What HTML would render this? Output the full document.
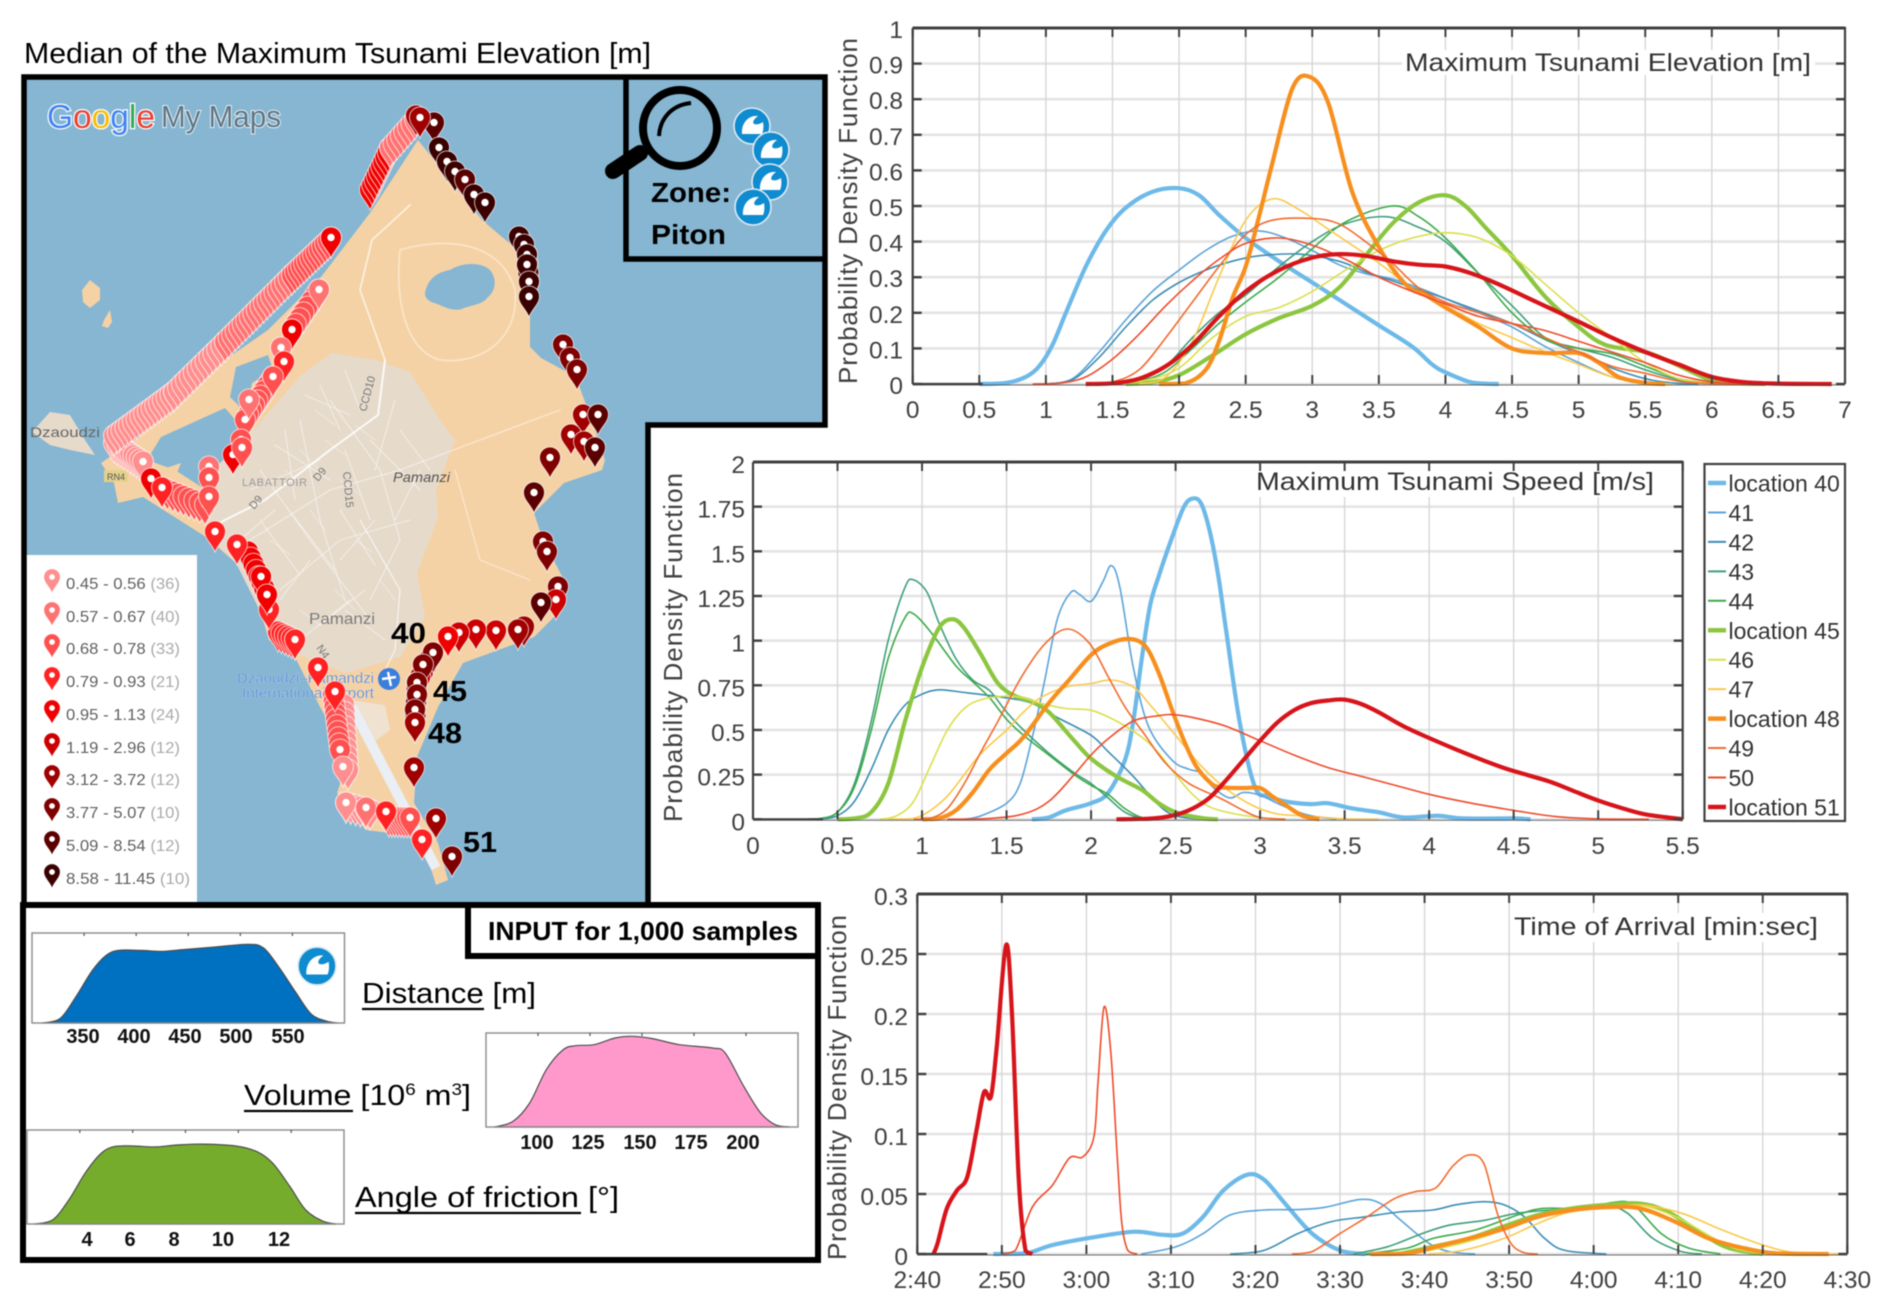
<!DOCTYPE html>
<html lang="en">
<head>
<meta charset="utf-8">
<title>Tsunami probability density figure</title>
<style>
html,body{margin:0;padding:0;background:#fff;}
#figure{display:block;width:1892px;height:1309px;filter:blur(0.55px);font-family:"Liberation Sans",sans-serif;}
text{font-family:"Liberation Sans",sans-serif;}
</style>
</head>
<body>
<svg id="figure" xmlns="http://www.w3.org/2000/svg" width="1892" height="1309" viewBox="0 0 1892 1309">
<defs>
<clipPath id="mapClip"><polygon points="24,77 825,77 825,425 648,425 648,905 24,905"/></clipPath>
</defs>
<rect width="1892" height="1309" fill="#fff"/>

<text x="24" y="63" font-size="29" textLength="627" lengthAdjust="spacingAndGlyphs" fill="#000">Median of the Maximum Tsunami Elevation [m]</text>

<g clip-path="url(#mapClip)">
<rect x="24" y="77" width="801" height="828" fill="#86B6D1"/>
<polygon fill="#E6DACB" points="32,432 50,412 70,415 85,440 95,455 70,450 50,445"/>
<polygon fill="#F5D2A6" points="418,140 482,220 514,247 530,300 530,347 541,358 576,377 589,413 605,460 602,470 564,483 534,513 543,540 564,580 564,607 534,637 463,663 438,707 417,757 414,803 438,843 448,880 436,885 421,837 366,830 337,793 349,757 320,707 295,657 269,640 257,600 236,563 206,537 143,497 118,503 114,483 101,463 139,437 177,400 225,360 268,330 321,277 370,213"/>
<polygon fill="#86B6D1" points="236,367 268,355 273,370 252,383 246,413 230,397"/>
<polygon fill="#86B6D1" points="161,437 225,408 238,423 252,460 206,490 175,470 147,460"/>
<polygon fill="#F5D2A6" points="160,470 181,463 175,478 168,482"/>
<polygon fill="#F5D2A6" points="82,290 90,280 100,288 100,300 90,308 83,302"/>
<polygon fill="#F5D2A6" points="104,320 110,310 112,322 108,328 102,326"/>
<polygon fill="#E6DACB" points="258,425 300,376 332,353 375,360 410,372 440,420 455,440 436,490 438,517 417,573 425,617 400,657 345,673 295,653 261,613 236,563 206,533 210,473"/>
<path fill="#86B6D1" d="M425,293 C428,278 438,272 450,270 C462,262 482,262 490,270 C498,280 495,292 487,298 C482,305 470,305 462,309 C450,312 442,305 434,303 C428,301 425,298 425,293 Z"/>
<g fill="none" stroke="#fff" stroke-linecap="round">
<path stroke="#FBE6CC" stroke-width="1.6" d="M400,250 C440,238 500,238 515,290 C520,340 480,365 440,360 C405,350 395,300 400,250"/>
<path stroke-opacity=".85" stroke-width="2" d="M385,360 L378,415 L330,450 L265,500 L215,525"/>
<path stroke-opacity=".7" stroke-width="1.6" d="M410,205 L372,240 L360,290 L385,360"/>
<path stroke-opacity=".7" stroke-width="1.2" d="M360,520 L400,590 L395,650 L380,680"/>
<path stroke-opacity=".55" stroke-width="1.1" d="M250,540 L330,490 L400,470 L480,440 L560,410"/>
<path stroke-opacity=".6" stroke-width=".9" d="M300,420 L320,520 L345,600 M260,470 L310,540 L370,620 M280,590 L340,540 L410,520 M330,400 L380,470 L400,540 M455,470 L480,560 L530,580 M300,640 L350,600 M320,460 L250,490 M305,395 L350,415 M320,385 L340,430 M345,370 L360,410 M275,445 L330,480 M285,430 L295,500 M345,450 L370,520 M370,440 L420,490 M395,400 L375,470 M260,520 L300,575 M285,505 L335,570 M310,560 L280,600 M340,510 L375,565 M375,520 L340,560 M400,540 L370,600 M345,610 L385,640 M320,625 L365,590 M240,540 L275,510 M400,430 L430,470 M420,470 L395,520"/>
<path stroke-opacity=".45" stroke-width=".8" d="M315,410 L335,425 M300,450 L320,470 M340,480 L360,495 M270,540 L290,555 M310,510 L325,530 M355,540 L372,552 M335,590 L355,610 M300,610 L320,625 M380,580 L395,600 M355,425 L375,440 M285,470 L305,485 M325,440 L345,455"/>
</g>
<line x1="352" y1="707" x2="436" y2="868" stroke="#E9EFF4" stroke-width="10"/>
<polygon fill="#E9EFF4" points="350,700 385,705 390,730 370,745" opacity=".55"/>
<text x="30" y="437" font-size="14" textLength="70" lengthAdjust="spacingAndGlyphs" fill="#666">Dzaoudzi</text>
<text x="309" y="624" font-size="16" textLength="66" lengthAdjust="spacingAndGlyphs" fill="#7b7b7b">Pamanzi</text>
<text x="393" y="482" font-size="14" font-style="italic" textLength="57" lengthAdjust="spacingAndGlyphs" fill="#555">Pamanzi</text>
<text x="242" y="486" font-size="11" textLength="65" fill="#999">LABATTOIR</text>
<text font-size="11" fill="#777" transform="translate(254,510) rotate(-50)">D9</text>
<text font-size="11" fill="#777" transform="translate(318,482) rotate(-50)">D9</text>
<text font-size="11" fill="#777" transform="translate(343,472) rotate(85)">CCD15</text>
<text font-size="11" fill="#777" transform="translate(366,412) rotate(-75)">CCD10</text>
<text font-size="11" fill="#777" transform="translate(316,648) rotate(55)">N4</text>
<rect x="104" y="470" width="24" height="12" fill="#E4D28A"/>
<text x="107" y="480" font-size="9" fill="#555">RN4</text>
<text x="237" y="683" font-size="15" textLength="137" lengthAdjust="spacingAndGlyphs" fill="#4A80D6" stroke="#fff" stroke-opacity=".4" stroke-width=".6">Dzaoudzi–Pamandzi</text>
<text x="242" y="698" font-size="15" textLength="132" lengthAdjust="spacingAndGlyphs" fill="#4A80D6" stroke="#fff" stroke-opacity=".4" stroke-width=".6">International Airport</text>
<circle cx="389" cy="679" r="11" fill="#3B7FDC"/>
<path d="M382,679 L396,677 M388,672 L391,686" stroke="#fff" stroke-width="2.4"/>
<g id="mapPins"></g>
<text x="47" y="128" font-size="33" textLength="108" lengthAdjust="spacingAndGlyphs" stroke="#fff" stroke-width="2.4" paint-order="stroke"><tspan fill="#4285F4">G</tspan><tspan fill="#EA4335">o</tspan><tspan fill="#FBBC05">o</tspan><tspan fill="#4285F4">g</tspan><tspan fill="#34A853">l</tspan><tspan fill="#EA4335">e</tspan></text>
<text x="161" y="127" font-size="31" textLength="120" lengthAdjust="spacingAndGlyphs" fill="#5d7686" stroke="#e6edf2" stroke-width="2" paint-order="stroke">My Maps</text>
</g>

<g>
<rect x="26" y="555" width="171" height="348" fill="#fff"/>
<g id="mapLegendPins"></g>
<g font-size="15.5" fill="#5f5f5f">
<text x="66" y="589" textLength="114" lengthAdjust="spacingAndGlyphs">0.45 - 0.56 <tspan fill="#aaa">(36)</tspan></text>
<text x="66" y="622" textLength="114" lengthAdjust="spacingAndGlyphs">0.57 - 0.67 <tspan fill="#aaa">(40)</tspan></text>
<text x="66" y="654" textLength="114" lengthAdjust="spacingAndGlyphs">0.68 - 0.78 <tspan fill="#aaa">(33)</tspan></text>
<text x="66" y="687" textLength="114" lengthAdjust="spacingAndGlyphs">0.79 - 0.93 <tspan fill="#aaa">(21)</tspan></text>
<text x="66" y="720" textLength="114" lengthAdjust="spacingAndGlyphs">0.95 - 1.13 <tspan fill="#aaa">(24)</tspan></text>
<text x="66" y="753" textLength="114" lengthAdjust="spacingAndGlyphs">1.19 - 2.96 <tspan fill="#aaa">(12)</tspan></text>
<text x="66" y="785" textLength="114" lengthAdjust="spacingAndGlyphs">3.12 - 3.72 <tspan fill="#aaa">(12)</tspan></text>
<text x="66" y="818" textLength="114" lengthAdjust="spacingAndGlyphs">3.77 - 5.07 <tspan fill="#aaa">(10)</tspan></text>
<text x="66" y="851" textLength="114" lengthAdjust="spacingAndGlyphs">5.09 - 8.54 <tspan fill="#aaa">(12)</tspan></text>
<text x="66" y="884" textLength="124" lengthAdjust="spacingAndGlyphs">8.58 - 11.45 <tspan fill="#aaa">(10)</tspan></text>
</g>
</g>

<g font-size="29" font-weight="bold" fill="#000">
<text x="391" y="643" textLength="35" lengthAdjust="spacingAndGlyphs">40</text>
<text x="433" y="701" textLength="34" lengthAdjust="spacingAndGlyphs">45</text>
<text x="428" y="743" textLength="34" lengthAdjust="spacingAndGlyphs">48</text>
<text x="463" y="852" textLength="34" lengthAdjust="spacingAndGlyphs">51</text>
</g>

<path d="M24,77 H825 V425 H648 V905 H24 Z" fill="none" stroke="#000" stroke-width="5.5"/>
<path d="M626,77 V259 H825" fill="none" stroke="#000" stroke-width="5.5"/>

<g>
<ellipse cx="680" cy="128" rx="37" ry="38" fill="none" stroke="#000" stroke-width="8"/>
<path d="M659,136 C660,118 672,105 691,103" fill="none" stroke="#000" stroke-width="4"/>
<line x1="640" y1="153" x2="613" y2="171" stroke="#000" stroke-width="16" stroke-linecap="round"/>
</g>
<g id="zoneWaves"></g>
<text x="651" y="202" font-size="28" font-weight="bold" textLength="80" lengthAdjust="spacingAndGlyphs">Zone:</text>
<text x="651" y="244" font-size="28" font-weight="bold" textLength="75" lengthAdjust="spacingAndGlyphs">Piton</text>

<g>
<rect x="23" y="905" width="795" height="355" fill="#fff" stroke="#000" stroke-width="6"/>
<path d="M468,905 V956 H818" fill="none" stroke="#000" stroke-width="6"/>
<text x="488" y="940" font-size="26" font-weight="bold" textLength="310" lengthAdjust="spacingAndGlyphs">INPUT for 1,000 samples</text>
<g id="distancePlot"></g>
<g id="volumePlot"></g>
<g id="frictionPlot"></g>
<g font-size="20" font-weight="bold" text-anchor="middle" fill="#111">
<text x="83" y="1043">350</text>
<text x="134" y="1043">400</text>
<text x="185" y="1043">450</text>
<text x="236" y="1043">500</text>
<text x="288" y="1043">550</text>
<text x="537" y="1149">100</text>
<text x="588" y="1149">125</text>
<text x="640" y="1149">150</text>
<text x="691" y="1149">175</text>
<text x="743" y="1149">200</text>
<text x="87" y="1246">4</text>
<text x="130" y="1246">6</text>
<text x="174" y="1246">8</text>
<text x="223" y="1246">10</text>
<text x="279" y="1246">12</text>
</g>
<text x="362" y="1003" font-size="29" textLength="174" lengthAdjust="spacingAndGlyphs">Distance [m]</text>
<line x1="362" y1="1009" x2="484" y2="1009" stroke="#000" stroke-width="2.2"/>
<text x="244" y="1105" font-size="29" textLength="227" lengthAdjust="spacingAndGlyphs">Volume [10<tspan font-size="17" dy="-10">6</tspan><tspan dy="10"> m</tspan><tspan font-size="17" dy="-10">3</tspan><tspan dy="10">]</tspan></text>
<line x1="244" y1="1111" x2="353" y2="1111" stroke="#000" stroke-width="2.2"/>
<text x="355" y="1207" font-size="29" textLength="264" lengthAdjust="spacingAndGlyphs">Angle of friction [°]</text>
<line x1="355" y1="1213" x2="581" y2="1213" stroke="#000" stroke-width="2.2"/>
</g>

<g id="elevationChart"></g>
<g id="speedChart"></g>
<g id="arrivalChart"></g>
<g id="seriesLegend"></g>
</svg>

<script>
// ---------- Elevation chart data: [value (m), density] ----------
const elevXTicks = [0,0.5,1,1.5,2,2.5,3,3.5,4,4.5,5,5.5,6,6.5,7];
const elevYTicks = [0,0.1,0.2,0.3,0.4,0.5,0.6,0.7,0.8,0.9,1];
const elev40 = [[0.5,0],[0.7,0.003],[0.85,0.02],[0.95,0.05],[1.05,0.11],[1.15,0.2],[1.3,0.33],[1.45,0.43],[1.6,0.495],[1.8,0.54],[2,0.55],[2.15,0.53],[2.3,0.475],[2.5,0.41],[2.75,0.345],[3,0.285],[3.25,0.225],[3.5,0.165],[3.75,0.105],[3.9,0.055],[4,0.033],[4.2,0.004],[4.4,0]];
const elev41 = [[1,0],[1.2,0.015],[1.4,0.09],[1.6,0.18],[1.8,0.26],[2,0.32],[2.2,0.375],[2.4,0.415],[2.6,0.43],[2.8,0.41],[3,0.375],[3.2,0.335],[3.4,0.31],[3.6,0.295],[3.8,0.27],[4,0.24],[4.25,0.2],[4.5,0.16],[4.75,0.105],[5,0.06],[5.25,0.02],[5.5,0.002],[5.7,0]];
const elev42 = [[1,0],[1.2,0.012],[1.4,0.075],[1.6,0.16],[1.8,0.235],[2,0.285],[2.2,0.32],[2.4,0.345],[2.6,0.36],[2.9,0.365],[3.2,0.345],[3.4,0.315],[3.6,0.29],[3.8,0.265],[4,0.24],[4.25,0.205],[4.5,0.17],[4.75,0.125],[5,0.085],[5.25,0.045],[5.5,0.015],[5.7,0.003],[5.9,0]];
const elev43 = [[1.5,0],[1.7,0.01],[1.9,0.05],[2.1,0.13],[2.3,0.2],[2.5,0.25],[2.75,0.33],[3,0.4],[3.25,0.45],[3.55,0.47],[3.8,0.44],[4,0.4],[4.25,0.31],[4.5,0.22],[4.75,0.13],[5,0.1],[5.25,0.075],[5.5,0.04],[5.75,0.012],[6,0.001]];
const elev44 = [[1.5,0],[1.7,0.008],[1.9,0.035],[2.1,0.1],[2.3,0.17],[2.5,0.23],[2.75,0.3],[3,0.38],[3.25,0.455],[3.6,0.5],[3.8,0.47],[4,0.41],[4.25,0.31],[4.5,0.2],[4.75,0.125],[5,0.1],[5.25,0.085],[5.5,0.05],[5.75,0.015],[6,0.002]];
const elev45 = [[1.6,0],[1.8,0.005],[2,0.025],[2.25,0.08],[2.5,0.14],[2.75,0.185],[3,0.22],[3.2,0.27],[3.4,0.36],[3.6,0.45],[3.8,0.51],[4,0.53],[4.15,0.5],[4.3,0.44],[4.5,0.36],[4.75,0.245],[5,0.16],[5.2,0.11],[5.5,0.09],[5.7,0.06],[6,0.01],[6.2,0.002],[6.4,0]];
const elev46 = [[1.5,0],[1.75,0.01],[2,0.045],[2.25,0.13],[2.5,0.19],[2.75,0.215],[3,0.26],[3.25,0.32],[3.5,0.375],[3.75,0.41],[4,0.425],[4.25,0.41],[4.5,0.36],[4.75,0.28],[5,0.2],[5.25,0.13],[5.5,0.06],[5.75,0.015],[6,0.002]];
const elev47 = [[1.7,0],[1.9,0.02],[2.1,0.12],[2.3,0.3],[2.5,0.46],[2.7,0.52],[2.9,0.49],[3.1,0.44],[3.3,0.39],[3.5,0.34],[3.75,0.27],[4,0.22],[4.25,0.17],[4.5,0.13],[4.75,0.09],[5,0.055],[5.25,0.02],[5.5,0.005],[5.7,0]];
const elev48 = [[1.85,0],[2.05,0.002],[2.2,0.04],[2.3,0.12],[2.4,0.24],[2.5,0.33],[2.6,0.47],[2.7,0.62],[2.85,0.83],[2.98,0.863],[3.12,0.79],[3.3,0.54],[3.5,0.385],[3.7,0.28],[3.85,0.25],[4,0.215],[4.25,0.16],[4.5,0.1],[4.75,0.087],[5,0.087],[5.15,0.06],[5.3,0.02],[5.5,0.003],[5.65,0]];
const elev49 = [[1.3,0],[1.5,0.006],[1.7,0.04],[1.9,0.13],[2.1,0.23],[2.3,0.33],[2.5,0.42],[2.7,0.46],[3,0.465],[3.2,0.45],[3.4,0.4],[3.6,0.34],[3.8,0.27],[4,0.23],[4.25,0.2],[4.5,0.17],[4.75,0.13],[5,0.09],[5.25,0.05],[5.5,0.03],[5.75,0.008],[6,0.001],[6.2,0]];
const elev50 = [[0.9,0],[1.1,0.002],[1.3,0.02],[1.5,0.07],[1.7,0.14],[1.9,0.22],[2.1,0.29],[2.3,0.35],[2.5,0.395],[2.75,0.41],[3,0.39],[3.25,0.35],[3.5,0.3],[3.75,0.26],[4,0.225],[4.25,0.19],[4.5,0.17],[4.75,0.15],[5,0.12],[5.25,0.09],[5.5,0.06],[5.75,0.025],[6,0.006],[6.25,0]];
const elev51 = [[1.3,0],[1.5,0.002],[1.7,0.015],[1.9,0.05],[2.1,0.11],[2.3,0.19],[2.5,0.26],[2.75,0.32],[3,0.355],[3.2,0.365],[3.4,0.36],[3.6,0.345],[3.8,0.335],[4,0.33],[4.2,0.31],[4.4,0.28],[4.6,0.245],[4.8,0.21],[5,0.175],[5.25,0.13],[5.5,0.09],[5.75,0.055],[6,0.02],[6.25,0.005],[6.5,0.001],[6.9,0]];

// ---------- Speed chart data: [value (m/s), density] ----------
const speedXTicks = [0,0.5,1,1.5,2,2.5,3,3.5,4,4.5,5,5.5];
const speedYTicks = [0,0.25,0.5,0.75,1,1.25,1.5,1.75,2];
const speed40 = [[1.65,0],[1.75,0.01],[1.85,0.05],[2,0.09],[2.1,0.147],[2.2,0.33],[2.25,0.55],[2.3,0.9],[2.35,1.2],[2.4,1.36],[2.48,1.58],[2.55,1.75],[2.6,1.795],[2.65,1.77],[2.7,1.62],[2.75,1.38],[2.8,1.05],[2.88,0.54],[2.97,0.18],[3.05,0.13],[3.15,0.1],[3.3,0.085],[3.4,0.09],[3.55,0.06],[3.7,0.04],[3.85,0.01],[4.05,0.02],[4.2,0.005],[4.5,0.005],[4.6,0]];
const speed41 = [[1.25,0],[1.35,0.02],[1.5,0.09],[1.58,0.2],[1.65,0.45],[1.72,0.75],[1.8,1.12],[1.88,1.27],[1.93,1.26],[2,1.22],[2.07,1.33],[2.12,1.42],[2.17,1.3],[2.25,0.85],[2.34,0.52],[2.48,0.33],[2.58,0.28],[2.65,0.26],[2.72,0.18],[2.82,0.12],[2.9,0.15],[3,0.135],[3.1,0.09],[3.2,0.05],[3.3,0.02],[3.45,0]];
const speed42 = [[0.4,0],[0.5,0.02],[0.6,0.1],[0.7,0.28],[0.8,0.5],[0.9,0.64],[1,0.7],[1.1,0.725],[1.25,0.71],[1.5,0.68],[1.65,0.65],[1.8,0.57],[2,0.47],[2.1,0.38],[2.25,0.24],[2.4,0.08],[2.5,0.02],[2.65,0]];
const speed43 = [[0.3,0],[0.4,0.005],[0.5,0.04],[0.6,0.2],[0.7,0.55],[0.8,1],[0.9,1.3],[0.95,1.34],[1.03,1.27],[1.1,1.1],[1.2,0.9],[1.3,0.78],[1.4,0.72],[1.5,0.6],[1.6,0.5],[1.75,0.37],[1.9,0.26],[2,0.2],[2.1,0.12],[2.2,0.04],[2.3,0.005],[2.4,0]];
const speed44 = [[0.3,0],[0.4,0.004],[0.5,0.04],[0.6,0.18],[0.7,0.5],[0.8,0.9],[0.9,1.13],[0.95,1.15],[1.05,1.05],[1.2,0.86],[1.3,0.77],[1.4,0.68],[1.5,0.56],[1.6,0.47],[1.75,0.36],[1.9,0.25],[2,0.19],[2.1,0.14],[2.2,0.06],[2.3,0.01],[2.4,0]];
const speed45 = [[0.5,0],[0.6,0.005],[0.7,0.04],[0.8,0.2],[0.9,0.55],[1,0.85],[1.1,1.07],[1.18,1.12],[1.25,1.07],[1.35,0.92],[1.45,0.76],[1.55,0.69],[1.65,0.66],[1.75,0.6],[1.9,0.44],[2,0.34],[2.15,0.24],[2.3,0.165],[2.4,0.09],[2.5,0.04],[2.65,0.007],[2.75,0]];
const speed46 = [[0.75,0],[0.85,0.02],[0.95,0.1],[1.05,0.3],[1.15,0.5],[1.25,0.62],[1.35,0.67],[1.5,0.69],[1.6,0.68],[1.7,0.65],[1.85,0.62],[2,0.61],[2.15,0.55],[2.3,0.46],[2.4,0.37],[2.5,0.25],[2.6,0.14],[2.7,0.07],[2.85,0.03],[3,0.01],[3.15,0]];
const speed47 = [[0.8,0],[0.95,0.005],[1.05,0.05],[1.15,0.13],[1.25,0.25],[1.35,0.37],[1.5,0.5],[1.6,0.6],[1.7,0.68],[1.85,0.74],[2,0.76],[2.12,0.78],[2.25,0.74],[2.35,0.64],[2.5,0.47],[2.65,0.3],[2.8,0.17],[2.95,0.08],[3.1,0.03],[3.25,0.02],[3.5,0.002],[3.7,0]];
const speed48 = [[1,0],[1.1,0.005],[1.2,0.05],[1.3,0.15],[1.4,0.28],[1.5,0.37],[1.6,0.46],[1.75,0.65],[1.87,0.78],[2,0.92],[2.1,0.98],[2.22,1.01],[2.32,0.97],[2.4,0.82],[2.48,0.61],[2.55,0.44],[2.62,0.3],[2.7,0.21],[2.76,0.18],[2.9,0.175],[3,0.175],[3.07,0.13],[3.15,0.08],[3.25,0.02],[3.35,0]];
const speed49 = [[0.95,0],[1.05,0.005],[1.15,0.06],[1.25,0.2],[1.35,0.38],[1.45,0.55],[1.59,0.8],[1.73,0.985],[1.86,1.065],[1.99,0.985],[2.1,0.8],[2.2,0.63],[2.32,0.47],[2.44,0.315],[2.58,0.2],[2.76,0.12],[2.9,0.05],[3,0.01],[3.15,0]];
const speed50 = [[1.15,0],[1.4,0.005],[1.6,0.03],[1.75,0.1],[1.9,0.25],[2,0.36],[2.1,0.45],[2.25,0.55],[2.4,0.58],[2.5,0.585],[2.65,0.56],[2.8,0.52],[3,0.44],[3.2,0.36],[3.4,0.29],[3.6,0.24],[3.8,0.19],[4,0.14],[4.25,0.09],[4.5,0.05],[4.75,0.015],[5,0.002],[5.3,0]];
const speed51 = [[2.15,0],[2.35,0.004],[2.48,0.02],[2.6,0.06],[2.7,0.12],[2.8,0.22],[2.9,0.33],[3,0.44],[3.1,0.54],[3.2,0.61],[3.3,0.65],[3.4,0.665],[3.5,0.67],[3.6,0.645],[3.7,0.6],[3.85,0.52],[4,0.455],[4.2,0.375],[4.45,0.285],[4.7,0.215],[4.85,0.16],[5,0.105],[5.15,0.06],[5.29,0.026],[5.5,0]];

// ---------- Arrival chart data: [time (seconds), density] ----------
const arrivalXTicks = [160,170,180,190,200,210,220,230,240,250,260,270];
const arrivalXLabels = ["2:40","2:50","3:00","3:10","3:20","3:30","3:40","3:50","4:00","4:10","4:20","4:30"];
const arrivalYTicks = [0,0.05,0.1,0.15,0.2,0.25,0.3];
const arrival40 = [[169,0],[172.8,0.0005],[176,0.0075],[180.9,0.014],[185.7,0.0186],[189,0.016],[191.4,0.017],[193.8,0.031],[196.2,0.053],[199,0.066],[201,0.062],[203.5,0.042],[206.7,0.017],[210,0.003],[213,0]];
const arrival41 = [[186.5,0],[190.6,0.006],[193.8,0.017],[197,0.0325],[201,0.0367],[205,0.037],[208.3,0.039],[212.4,0.0455],[214.8,0.042],[217.2,0.028],[220.5,0.009],[222.9,0.002],[226,0]];
const arrival42 = [[197,0],[201,0.003],[205,0.017],[209,0.027],[213,0.031],[217,0.035],[221,0.0367],[223.7,0.041],[227,0.0436],[229.4,0.041],[231.8,0.031],[234.2,0.013],[236.6,0.003],[241.5,0]];
const arrival43 = [[211.6,0],[215.6,0.006],[219.7,0.017],[222.9,0.024],[227,0.028],[231,0.034],[234.9,0.0367],[239,0.038],[241.5,0.041],[244,0.034],[247,0.013],[250.4,0.002],[252.8,0]];
const arrival44 = [[213,0],[218,0.005],[221,0.013],[226,0.02],[231,0.0325],[234,0.038],[239,0.038],[242.3,0.043],[244.7,0.041],[248,0.017],[251.2,0.005],[255,0]];
const arrival45 = [[217,0],[221,0.006],[225.3,0.013],[229.4,0.023],[233.4,0.0325],[237.4,0.038],[241.5,0.041],[245.5,0.042],[248.8,0.035],[252.8,0.017],[256,0.005],[260,0]];
const arrival46 = [[218,0],[222,0.005],[226,0.012],[230,0.022],[234,0.032],[238,0.038],[242,0.04],[246,0.04],[250,0.03],[254,0.014],[257,0.004],[261,0]];
const arrival47 = [[220.5,0],[224.5,0.003],[229.4,0.013],[232.6,0.023],[236.6,0.034],[240.7,0.038],[245.5,0.041],[250.4,0.034],[255.2,0.02],[260,0.0075],[264,0.001],[269.8,0]];
const arrival48 = [[213.6,0],[218,0.0005],[221.3,0.006],[225.3,0.013],[229.4,0.021],[233.4,0.031],[237.4,0.0367],[241.5,0.039],[245.5,0.038],[249.6,0.027],[253.6,0.013],[257.7,0.005],[261.7,0.0005],[267.8,0]];
const arrival49 = [[204.3,0],[206.7,0.002],[210,0.017],[213.2,0.031],[216.4,0.046],[218.9,0.052],[221.3,0.055],[223.3,0.073],[225.2,0.0825],[227,0.0755],[228.6,0.034],[230.2,0.009],[231.8,0.001],[233.4,0]];
const arrival50 = [[170,0],[171.6,0.003],[173.6,0.039],[176,0.0575],[178,0.08],[179.6,0.081],[180.9,0.098],[181.4,0.145],[182.1,0.206],[182.9,0.167],[183.7,0.075],[184.2,0.025],[184.9,0.003],[186,0]];
const arrival51 = [[161.9,0],[162.4,0.009],[163.5,0.038],[164.7,0.053],[165.9,0.064],[167,0.103],[167.9,0.135],[168.7,0.131],[169.4,0.173],[170.5,0.2575],[171.2,0.2],[172,0.0617],[172.8,0.003],[173.6,0]];

// ---------- Input distributions: [value, relative density] ----------
const distanceCurve = [[310,0],[327,0.05],[342,0.29],[358,0.585],[371,0.75],[383,0.807],[404,0.807],[424,0.796],[445,0.815],[476,0.844],[506,0.874],[522,0.837],[537,0.62],[553,0.344],[568,0.1],[583,0.02],[594,0]];
const volumeCurve = [[79,0],[88,0.06],[96,0.255],[104,0.61],[112,0.82],[118,0.865],[127,0.876],[137,0.947],[145,0.965],[155,0.94],[168,0.876],[184,0.84],[190,0.787],[199,0.43],[207,0.15],[214,0.025],[221,0]];
const frictionCurve = [[2.27,0],[2.98,0.046],[3.59,0.258],[4.2,0.54],[4.8,0.75],[5.3,0.823],[6,0.83],[6.85,0.82],[7.67,0.84],[8.68,0.85],[9.9,0.83],[10.7,0.77],[11.3,0.647],[11.95,0.4],[12.55,0.15],[13.2,0.03],[13.7,0]];

// ---------- Series identity ----------
const seriesIds = [40,41,42,43,44,45,46,47,48,49,50,51];
const legendLabels = ["location 40","41","42","43","44","location 45","46","47","location 48","49","50","location 51"];
const elevationSeries = [elev40,elev41,elev42,elev43,elev44,elev45,elev46,elev47,elev48,elev49,elev50,elev51];
const speedSeries = [speed40,speed41,speed42,speed43,speed44,speed45,speed46,speed47,speed48,speed49,speed50,speed51];
const arrivalSeries = [arrival40,arrival41,arrival42,arrival43,arrival44,arrival45,arrival46,arrival47,arrival48,arrival49,arrival50,arrival51];

const seriesColors = ["#6DB9E8","#5BA3D9","#3C8DB5","#3E9F7A","#3CAA4A","#8CC63F","#D9E04A","#FBC94A","#F78F1E","#F26B2E","#EE4B2B","#D7141A"];
const seriesWidths = [4.2,1.6,1.6,1.6,1.6,4.2,1.6,1.6,4.2,1.6,1.6,4.2];

const SVGNS = "http://www.w3.org/2000/svg";
function mk(parent, tag, attrs){
  const el = document.createElementNS(SVGNS, tag);
  for(const k in attrs){ el.setAttribute(k, attrs[k]); }
  parent.appendChild(el);
  return el;
}
function smoothPath(pts, floorY){
  let d = "M" + pts[0][0].toFixed(1) + "," + pts[0][1].toFixed(1);
  for(let i=0;i<pts.length-1;i++){
    const p0=pts[i-1]||pts[i], p1=pts[i], p2=pts[i+1], p3=pts[i+2]||p2;
    const c1x=p1[0]+(p2[0]-p0[0])/6, c1y=Math.min(floorY,p1[1]+(p2[1]-p0[1])/6);
    const c2x=p2[0]-(p3[0]-p1[0])/6, c2y=Math.min(floorY,p2[1]-(p3[1]-p1[1])/6);
    d += "C"+c1x.toFixed(1)+","+c1y.toFixed(1)+" "+c2x.toFixed(1)+","+c2y.toFixed(1)+" "+p2[0].toFixed(1)+","+p2[1].toFixed(1);
  }
  return d;
}

function drawChart(cfg){
  const g = document.getElementById(cfg.id);
  const sx = v => cfg.left + (v-cfg.xMin)/(cfg.xMax-cfg.xMin)*(cfg.right-cfg.left);
  const sy = v => cfg.bottom - (v-cfg.yMin)/(cfg.yMax-cfg.yMin)*(cfg.bottom-cfg.top);

  cfg.yTicks.forEach(v => {
    const gl = mk(g,"line",{x1:cfg.left,x2:cfg.right,y1:sy(v),y2:sy(v),stroke:"#E4E4E4","stroke-width":2.6});
    
    
  });
  cfg.xTicks.forEach(v => {
    const gl = mk(g,"line",{x1:sx(v),x2:sx(v),y1:cfg.top,y2:cfg.bottom,stroke:"#D4D4D4","stroke-width":1.3});
    
    
  });

  const box = mk(g,"rect",{x:cfg.titleBox[0],y:cfg.titleBox[1],width:cfg.titleBox[2],height:cfg.titleBox[3],fill:"#fff"});
  
  
  const title = mk(g,"text",{x:cfg.titleX,y:cfg.titleY,"font-size":25,textLength:cfg.titleLen,lengthAdjust:"spacingAndGlyphs",fill:"#333"});
  title.textContent = cfg.title;
  
  

  cfg.series.forEach((pts,i) => {
    const mapped = pts.map(p => [sx(p[0]), sy(p[1])]);
    const path = mk(g,"path",{d:smoothPath(mapped,cfg.bottom),fill:"none",stroke:seriesColors[i],"stroke-width":seriesWidths[i],"stroke-linejoin":"round"});
    
    
  });

  const frame = mk(g,"path",{d:"M"+cfg.left+","+cfg.top+" H"+cfg.right+" V"+cfg.bottom+" M"+cfg.left+","+cfg.top+" V"+cfg.bottom,fill:"none",stroke:"#404040","stroke-width":2.2});
  
  
  const base = mk(g,"line",{x1:cfg.left,x2:cfg.left+70,y1:cfg.bottom,y2:cfg.bottom,stroke:"#404040","stroke-width":2.2});
  
  
  const base2 = mk(g,"line",{x1:cfg.left,x2:cfg.right,y1:cfg.bottom+1,y2:cfg.bottom+1,stroke:"#404040","stroke-width":1,"stroke-opacity":0.75});
  
  
  const topEdge = mk(g,"line",{x1:cfg.left,x2:cfg.right,y1:cfg.top,y2:cfg.top,stroke:"#404040","stroke-width":3});
  
  

  cfg.yTicks.forEach(v => {
    const t1 = mk(g,"line",{x1:cfg.left,x2:cfg.left+9,y1:sy(v),y2:sy(v),stroke:"#404040","stroke-width":2.4});
    
    
    const t2 = mk(g,"line",{x1:cfg.right-9,x2:cfg.right,y1:sy(v),y2:sy(v),stroke:"#404040","stroke-width":2.4});
    
    
    const lab = mk(g,"text",{x:cfg.yLabelX,y:sy(v)+cfg.yLabelDy,"font-size":24.5,"text-anchor":"end",fill:"#404040"});
    lab.textContent = String(v);
    
    
  });
  cfg.xTicks.forEach((v,i) => {
    const t1 = mk(g,"line",{x1:sx(v),x2:sx(v),y1:cfg.top,y2:cfg.top+9,stroke:"#404040","stroke-width":2});
    
    
    const t2 = mk(g,"line",{x1:sx(v),x2:sx(v),y1:cfg.bottom-9,y2:cfg.bottom,stroke:"#404040","stroke-width":2});
    
    
    const lab = mk(g,"text",{x:sx(v),y:cfg.xLabelY,"font-size":24.5,"text-anchor":"middle",fill:"#404040"});
    lab.textContent = cfg.xLabels ? cfg.xLabels[i] : String(v);
    
    
  });

  const yt = mk(g,"text",{"font-size":26,fill:"#404040",textLength:cfg.yTitleLen,lengthAdjust:"spacing","text-anchor":"start",transform:"translate("+cfg.yTitleX+","+cfg.yTitleBottom+") rotate(-90)"});
  yt.textContent = "Probability  Density  Function";
  
  
}

drawChart({id:"elevationChart",left:912.7,right:1845,top:28,bottom:384,xMin:0,xMax:7,yMin:0,yMax:1,
  xTicks:elevXTicks,yTicks:elevYTicks,series:elevationSeries,title:"Maximum Tsunami Elevation [m]",
  titleBox:[1402,50,413,25],titleX:1405,titleY:71,titleLen:406,yLabelX:903,yLabelDy:10,xLabelY:418,
  yTitleX:857,yTitleBottom:384,yTitleLen:346});
drawChart({id:"speedChart",left:753,right:1682.7,top:462,bottom:819.3,xMin:0,xMax:5.5,yMin:0,yMax:2,
  xTicks:speedXTicks,yTicks:speedYTicks,series:speedSeries,title:"Maximum Tsunami Speed [m/s]",
  titleBox:[1252,467,406,30],titleX:1256,titleY:490,titleLen:398,yLabelX:745,yLabelDy:11,xLabelY:854,
  yTitleX:682,yTitleBottom:822,yTitleLen:349});
drawChart({id:"arrivalChart",left:917.3,right:1847.3,top:894,bottom:1254,xMin:160,xMax:270,yMin:0,yMax:0.3,
  xTicks:arrivalXTicks,xLabels:arrivalXLabels,yTicks:arrivalYTicks,series:arrivalSeries,title:"Time of Arrival [min:sec]",
  titleBox:[1510,913,312,29],titleX:1514,titleY:935,titleLen:304,yLabelX:908,yLabelDy:11,xLabelY:1288,
  yTitleX:846,yTitleBottom:1260,yTitleLen:345});

// ---------- Series legend ----------
(function(){
  const g = document.getElementById("seriesLegend");
  const frame = mk(g,"rect",{x:1704.5,y:464,width:140.5,height:357,fill:"#fff",stroke:"#404040","stroke-width":2.2});
  
  
  legendLabels.forEach((label,i) => {
    const y = 483 + i*29.45;
    const sw = mk(g,"line",{x1:1708,x2:1726,y1:y,y2:y,stroke:seriesColors[i],"stroke-width":seriesWidths[i]>2?4.5:2});
    
    
    const t = mk(g,"text",{x:1728.5,y:y+8.5,"font-size":23,fill:"#333"});
    t.textContent = label;
    
    
  });
})();

// ---------- Input mini plots ----------
function drawMini(cfg){
  const g = document.getElementById(cfg.id);
  const sx = v => cfg.left + (v-cfg.xMin)/(cfg.xMax-cfg.xMin)*(cfg.right-cfg.left);
  const sy = v => cfg.bottom - v*(cfg.bottom-cfg.top);
  const mapped = cfg.curve.map(p => [sx(p[0]), sy(p[1])]);
  const d = smoothPath(mapped, cfg.bottom);
  const area = mk(g,"path",{d:d+"Z",fill:cfg.fill,stroke:"#4d4d4d","stroke-width":1.2});
  
  
  const frame = mk(g,"rect",{x:cfg.left,y:cfg.top,width:cfg.right-cfg.left,height:cfg.bottom-cfg.top,fill:"none",stroke:"#8a8a8a","stroke-width":1.4});
  
  
  cfg.ticks.forEach(v => {
    const t = mk(g,"line",{x1:sx(v),x2:sx(v),y1:cfg.top,y2:cfg.top+3,stroke:"#555","stroke-width":1.2});
    
    
  });
}
const distanceTicks = [350,400,450,500,550];
const volumeTicks = [100,125,150,175,200];
const frictionTicks = [4,6,8,10,12];
drawMini({id:"distancePlot",left:32,right:344.5,top:933,bottom:1023,xMin:300,xMax:600,curve:distanceCurve,fill:"#0070C0",ticks:distanceTicks});
drawMini({id:"volumePlot",left:486,right:798,top:1033,bottom:1127,xMin:75,xMax:225,curve:volumeCurve,fill:"#FF99CC",ticks:volumeTicks});
drawMini({id:"frictionPlot",left:27,right:344,top:1130,bottom:1224,xMin:2,xMax:14,curve:frictionCurve,fill:"#76AC2C",ticks:frictionTicks});

// ---------- Wave icons ----------
function wave(parent,x,y,r){
  const g = mk(parent,"g",{transform:"translate("+x+","+y+") scale("+(r/18)+")"});
  
  
  mk(g,"circle",{r:18,fill:"#0F8BD0",stroke:"#dfeaf2","stroke-width":1.6});
  mk(g,"path",{d:"M-10 8 C-11 -2 -4 -11 6 -10 C2 -7 0 -4 2 -2 C5 -1 8 -2 11 -4 C12 2 11 6 10 8 Z",fill:"#fff"});
}
const zoneGroup = document.getElementById("zoneWaves");
wave(zoneGroup,752,126,18);
wave(zoneGroup,771,150,18);
wave(zoneGroup,770,182,18);
wave(zoneGroup,753,207,18);
wave(document.getElementById("distancePlot"),317,966,19);

// ---------- Map pins (illustration layout) ----------
const pc = ["#FF8E8E","#FF7272","#FF5050","#FF2222","#F00000","#CC0000","#A00000","#7E0000","#5B0000","#3A0000"];
function pin(parent,x,y,color,scale){
  const g = mk(parent,"g",{transform:"translate("+x+","+y+") scale("+scale+")"});
  
  
  mk(g,"path",{d:"M0 0 C-3 -8 -10.5 -13 -10.5 -20.5 A10.5 10.5 0 1 1 10.5 -20.5 C10.5 -13 3 -8 0 0Z",fill:color,stroke:"#fff","stroke-opacity":0.7,"stroke-width":1});
  mk(g,"circle",{cx:0,cy:-20.5,r:3.7,fill:"#fff"});
}
const mapPinRuns = [
  [0,114,463,143,482,10],[0,114,456,174,412,17],[0,174,412,225,362,14],[1,225,362,292,295,20],[2,292,295,331,258,14],
  [4,370,210,390,168,10],[1,390,168,415,140,8],
  [2,319,310,292,350,8],[2,273,397,245,440,10],
  [2,162,508,205,525,9],
  [0,344,725,348,790,10],[2,333,715,340,770,10],
  [0,346,823,370,830,6],[2,389,837,410,838,8],
  [3,278,652,295,660,6],[4,248,572,267,615,8],
  [5,433,673,417,703,6],[7,417,703,415,743,7],
  [8,527,275,529,302,4]
];
const mapPinSingles = [
  [4,331,258],[1,319,310],[4,292,350],[1,281,368],[3,284,382],[2,273,397],[1,249,420],[2,241,460],[4,233,475],[2,242,468],
  [1,209,487],[2,209,498],[2,209,517],[3,215,552],[4,151,499],[3,162,508],
  [3,237,565],[4,261,597],[3,269,630],[4,267,615],[3,295,660],
  [3,318,688],[3,335,712],[0,343,787],[0,346,823],[1,366,828],[3,386,832],[3,422,860],
  [8,434,143],[9,439,168],[9,447,182],[9,455,192],[8,465,200],[9,474,215],[9,485,223],[6,416,136],[6,420,138],
  [9,519,257],[9,524,265],[9,527,275],[9,527,285],[9,529,302],[9,529,317],
  [7,563,365],[7,570,378],[7,577,390],
  [6,583,435],[8,598,435],[6,571,455],[6,584,462],[8,595,468],[7,550,478],[8,534,513],[7,543,562],[7,547,572],
  [7,558,607],[5,556,620],[8,541,623],
  [6,524,647],[6,518,650],[5,496,651],[5,476,650],[5,459,653],[4,448,657],
  [7,433,673],[7,423,685],[7,417,703],[7,417,715],[7,415,730],[6,415,743],[6,414,788],[6,436,839],[7,452,877]
];
(function(){
  const g = document.getElementById("mapPins");
  mapPinRuns.forEach(r => {
    for(let i=0;i<r[5];i++){
      const f = r[5]>1 ? i/(r[5]-1) : 0;
      pin(g, r[1]+(r[3]-r[1])*f, r[2]+(r[4]-r[2])*f, pc[r[0]], 1);
    }
  });
  mapPinSingles.forEach(s => pin(g, s[1], s[2], pc[s[0]], 1));
  const lg = document.getElementById("mapLegendPins");
  const legendTips = [593,626,658,691,724,757,789,822,855,888];
  legendTips.forEach((y,i) => pin(lg, 52, y, pc[i], 0.78));
})();
</script>
</body>
</html>
